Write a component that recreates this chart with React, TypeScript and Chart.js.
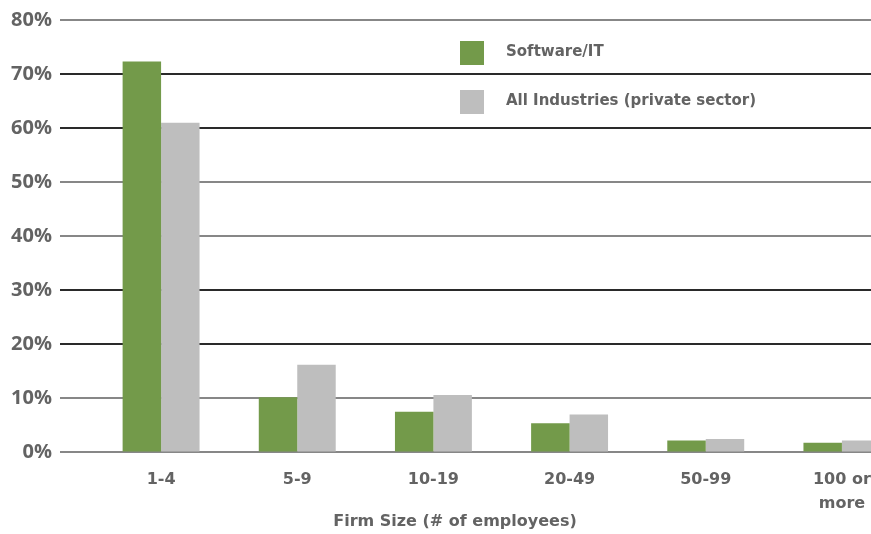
import { useEffect, useRef } from 'react';
import { Chart, registerables } from 'chart.js';

Chart.register(...registerables);

const categories: (string | string[])[] = ['1-4', '5-9', '10-19', '20-49', '50-99', ['100 or', 'more']];
const softwareIT = [72.3, 10.2, 7.5, 5.4, 2.2, 1.8];
const allIndustries = [61.0, 16.2, 10.6, 7.0, 2.5, 2.2];
const seriesNames = ['Software/IT', 'All Industries (private sector)'];
const seriesColors = ['#739a4a', '#bebebe'];
const yTickValues = [0, 10, 20, 30, 40, 50, 60, 70, 80];
const darkGridValues = [20, 30, 60, 70];
const xTitle = 'Firm Size (# of employees)';

const TEXT = '#636363';
const CAT_FONT = '"DejaVu Sans", sans-serif';

const insideLegend = {
  id: 'insideLegend',
  afterDraw(chart: any) {
    const ctx = chart.ctx;
    ctx.save();
    chart.data.datasets.forEach((ds: any, i: number) => {
      const top = 41 + i * 49;
      ctx.fillStyle = ds.backgroundColor;
      ctx.fillRect(460, top, 24, 24);
      ctx.fillStyle = TEXT;
      ctx.font = `bold 15px ${CAT_FONT}`;
      ctx.textAlign = 'left';
      ctx.textBaseline = 'alphabetic';
      ctx.fillText(ds.label, 506, top + 15);
    });
    ctx.restore();
  },
};

export default function App() {
  const ref = useRef<HTMLCanvasElement | null>(null);

  useEffect(() => {
    if (!ref.current) return;
    const chart = new Chart(ref.current, {
      type: 'bar',
      data: {
        labels: categories,
        datasets: [
          { label: seriesNames[0], data: softwareIT, backgroundColor: seriesColors[0], borderWidth: 0 },
          { label: seriesNames[1], data: allIndustries, backgroundColor: seriesColors[1], borderWidth: 0 },
        ],
      },
      options: {
        animation: false,
        responsive: true,
        maintainAspectRatio: false,
        layout: { padding: { top: 20, left: 0, right: 0, bottom: 0 } },
        datasets: { bar: { categoryPercentage: 0.565, barPercentage: 1 } },
        plugins: {
          legend: { display: false },
          tooltip: { enabled: false },
          title: {
            display: true,
            position: 'bottom',
            text: xTitle,
            color: TEXT,
            font: { family: CAT_FONT, size: 16, weight: 'bold', lineHeight: 1.2 },
            padding: { top: 0, bottom: 2.4 },
          },
        },
        scales: {
          x: {
            grid: { display: false, drawTicks: false },
            border: { display: false },
            ticks: {
              color: TEXT,
              padding: 15,
              autoSkip: false,
              maxRotation: 0,
              font: { family: CAT_FONT, size: 16, weight: 'bold', lineHeight: 1.5 },
            },
            afterFit: (scale: any) => {
              scale.height = 60;
            },
          },
          y: {
            min: 0,
            max: 80,
            border: { display: false },
            afterBuildTicks: (scale: any) => {
              scale.ticks = yTickValues.map((v) => ({ value: v }));
            },
            grid: {
              color: (c: any) => (darkGridValues.includes(c.tick?.value) ? '#2a2a2a' : '#878787'),
              lineWidth: 2,
              tickLength: 33,
            },
            ticks: {
              color: TEXT,
              padding: 8,
              font: { family: '"Open Sans", sans-serif', size: 20, weight: 'bold' },
              callback: (v: any) => `${v}%`,
            },
            afterFit: (scale: any) => {
              scale.width = 93;
            },
          },
        },
      },
      plugins: [insideLegend],
    });
    return () => chart.destroy();
  }, []);

  return (
    <div style={{ position: 'fixed', left: 0, top: 0, width: 871, height: 534, overflow: 'hidden', background: '#fff' }}>
      <div style={{ position: 'relative', width: 910, height: 534 }}>
        <canvas ref={ref} />
      </div>
    </div>
  );
}
